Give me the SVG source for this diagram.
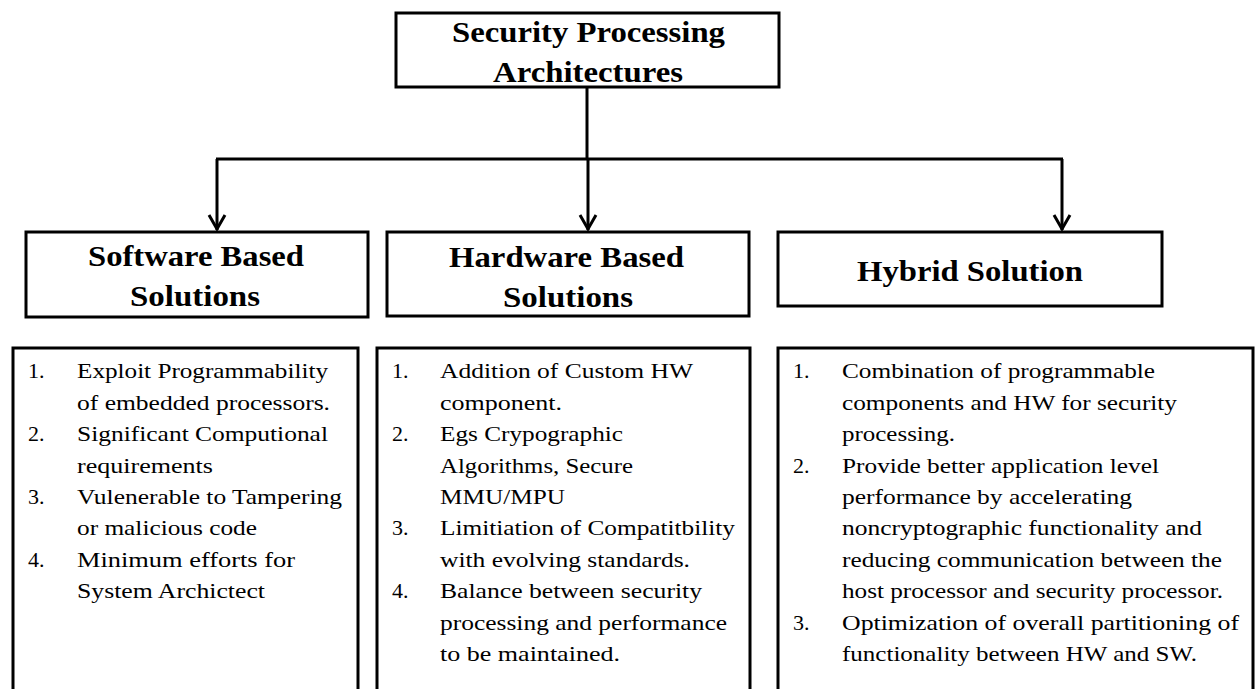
<svg xmlns="http://www.w3.org/2000/svg" width="1256" height="689" viewBox="0 0 1256 689">
<style>
.box{fill:#fff;stroke:#000;stroke-width:3}
.hd{font-family:"Liberation Serif","Times New Roman",serif;font-weight:bold;font-size:30px;fill:#000}
.tx{font-family:"Liberation Serif","Times New Roman",serif;font-size:22px;fill:#000}
.ln{fill:none;stroke:#000;stroke-width:3}
</style>
<rect width="1256" height="689" fill="#fff"/>
<g id="connectors">
<line class="ln" x1="587" y1="87" x2="587" y2="159"/>
<line class="ln" x1="216" y1="159" x2="1063" y2="159"/>
<path class="ln" d="M217,159 V230"/>
<path class="ln" d="M588,159 V230"/>
<path class="ln" d="M1062,159 V230"/>
<polyline class="ln" points="209,215 217,229 225,215"/>
<polyline class="ln" points="580,215 588,229 596,215"/>
<polyline class="ln" points="1054,215 1062,229 1070,215"/>
</g>
<g id="root">
<rect class="box" x="396" y="13" width="383" height="74"/>
<text class="hd" x="452" y="42" textLength="273" lengthAdjust="spacingAndGlyphs">Security Processing</text>
<text class="hd" x="493" y="82" textLength="190" lengthAdjust="spacingAndGlyphs">Architectures</text>
</g>
<g id="software">
<rect class="box" x="26" y="232" width="342" height="85"/>
<text class="hd" x="88" y="266" textLength="216" lengthAdjust="spacingAndGlyphs">Software Based</text>
<text class="hd" x="130" y="306" textLength="130" lengthAdjust="spacingAndGlyphs">Solutions</text>
</g>
<g id="hardware">
<rect class="box" x="387" y="232" width="362" height="84"/>
<text class="hd" x="449" y="267" textLength="235" lengthAdjust="spacingAndGlyphs">Hardware Based</text>
<text class="hd" x="503" y="307" textLength="130" lengthAdjust="spacingAndGlyphs">Solutions</text>
</g>
<g id="hybrid">
<rect class="box" x="778" y="232" width="384" height="74"/>
<text class="hd" x="857" y="281" textLength="226" lengthAdjust="spacingAndGlyphs">Hybrid Solution</text>
</g>
<g id="software-list">
<rect class="box" x="13" y="348" width="345" height="350"/>
<text class="tx" x="28" y="378">1.</text><text class="tx" x="77" y="378" textLength="251" lengthAdjust="spacingAndGlyphs">Exploit Programmability</text>
<text class="tx" x="77" y="410" textLength="253" lengthAdjust="spacingAndGlyphs">of embedded processors.</text>
<text class="tx" x="28" y="441">2.</text><text class="tx" x="77" y="441" textLength="251" lengthAdjust="spacingAndGlyphs">Significant Computional</text>
<text class="tx" x="77" y="473" textLength="136" lengthAdjust="spacingAndGlyphs">requirements</text>
<text class="tx" x="28" y="504">3.</text><text class="tx" x="77" y="504" textLength="265" lengthAdjust="spacingAndGlyphs">Vulenerable to Tampering</text>
<text class="tx" x="77" y="535" textLength="180" lengthAdjust="spacingAndGlyphs">or malicious code</text>
<text class="tx" x="28" y="567">4.</text><text class="tx" x="77" y="567" textLength="218" lengthAdjust="spacingAndGlyphs">Minimum efforts  for</text>
<text class="tx" x="77" y="598" textLength="188" lengthAdjust="spacingAndGlyphs">System Archictect</text>
</g>
<g id="hardware-list">
<rect class="box" x="377" y="348" width="373" height="350"/>
<text class="tx" x="392" y="378">1.</text><text class="tx" x="440" y="378" textLength="253" lengthAdjust="spacingAndGlyphs">Addition of Custom HW</text>
<text class="tx" x="440" y="410" textLength="122" lengthAdjust="spacingAndGlyphs">component.</text>
<text class="tx" x="392" y="441">2.</text><text class="tx" x="440" y="441" textLength="183" lengthAdjust="spacingAndGlyphs">Egs Crypographic</text>
<text class="tx" x="440" y="473" textLength="193" lengthAdjust="spacingAndGlyphs">Algorithms, Secure</text>
<text class="tx" x="440" y="504" textLength="125" lengthAdjust="spacingAndGlyphs">MMU/MPU</text>
<text class="tx" x="392" y="535">3.</text><text class="tx" x="440" y="535" textLength="295" lengthAdjust="spacingAndGlyphs">Limitiation of  Compatitbility</text>
<text class="tx" x="440" y="567" textLength="250" lengthAdjust="spacingAndGlyphs">with evolving standards.</text>
<text class="tx" x="392" y="598">4.</text><text class="tx" x="440" y="598" textLength="262" lengthAdjust="spacingAndGlyphs">Balance between security</text>
<text class="tx" x="440" y="630" textLength="287" lengthAdjust="spacingAndGlyphs">processing and performance</text>
<text class="tx" x="440" y="661" textLength="180" lengthAdjust="spacingAndGlyphs">to be maintained.</text>
</g>
<g id="hybrid-list">
<rect class="box" x="778" y="348" width="475" height="350"/>
<text class="tx" x="793" y="378">1.</text><text class="tx" x="842" y="378" textLength="313" lengthAdjust="spacingAndGlyphs">Combination of programmable</text>
<text class="tx" x="842" y="410" textLength="335" lengthAdjust="spacingAndGlyphs">components and HW for security</text>
<text class="tx" x="842" y="441" textLength="113" lengthAdjust="spacingAndGlyphs">processing.</text>
<text class="tx" x="793" y="473">2.</text><text class="tx" x="842" y="473" textLength="317" lengthAdjust="spacingAndGlyphs">Provide better application level</text>
<text class="tx" x="842" y="504" textLength="290" lengthAdjust="spacingAndGlyphs">performance by accelerating</text>
<text class="tx" x="842" y="535" textLength="360" lengthAdjust="spacingAndGlyphs">noncryptographic functionality and</text>
<text class="tx" x="842" y="567" textLength="380" lengthAdjust="spacingAndGlyphs">reducing communication between the</text>
<text class="tx" x="842" y="598" textLength="381" lengthAdjust="spacingAndGlyphs">host processor and security processor.</text>
<text class="tx" x="793" y="630">3.</text><text class="tx" x="842" y="630" textLength="397" lengthAdjust="spacingAndGlyphs">Optimization of  overall partitioning of</text>
<text class="tx" x="842" y="661" textLength="355" lengthAdjust="spacingAndGlyphs">functionality between HW and SW.</text>
</g>
</svg>
